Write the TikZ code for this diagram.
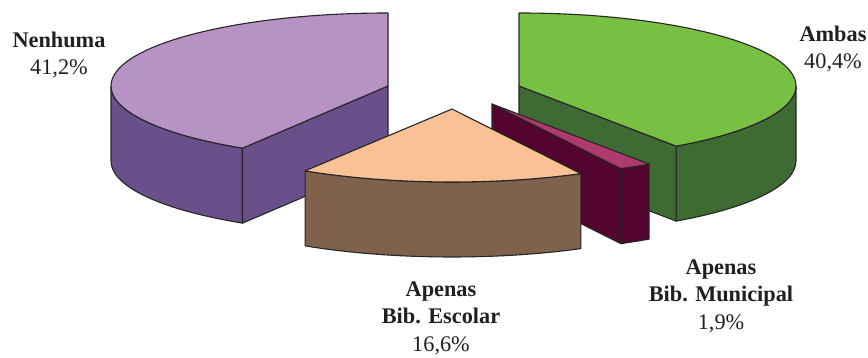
\documentclass[tikz,border=0pt]{standalone}
\usepackage{fontspec}
\setmainfont{Liberation Serif}
\usetikzlibrary{calc}
\definecolor{nenTop}{RGB}{183,146,196}
\definecolor{nenSide}{RGB}{106,80,138}
\definecolor{ambTop}{RGB}{120,192,67}
\definecolor{ambSide}{RGB}{62,106,51}
\definecolor{munTop}{RGB}{176,58,112}
\definecolor{munSide}{RGB}{83,5,48}
\definecolor{escTop}{RGB}{249,193,149}
\definecolor{escSide}{RGB}{128,98,76}
\definecolor{txt}{RGB}{35,31,32}
\tikzset{
  face/.style={draw=black!85, line width=1.1pt, line join=round},
  lbl/.style={align=center, text=txt, inner sep=0pt,
    font=\fontsize{22.3}{27.5}\selectfont},
  ell/.style={x radius=277pt, y radius=73pt}
}
\begin{document}
\begin{tikzpicture}[x=1pt,y=1pt]
\useasboundingbox (0,0) rectangle (868,358);
\coordinate (C1) at (388,272);
\coordinate (C2) at (519,272);
\coordinate (C3) at (492,254);
\coordinate (C4) at (452,249);
% ---------- Nenhuma ----------
\filldraw[face, fill=nenSide] ($(C1)+(180:277pt and 73pt)$) arc[ell, start angle=180, end angle=238.32]
  -- ++(0,-75) arc[ell, start angle=238.32, end angle=180] -- cycle;
\filldraw[face, fill=nenSide] (C1) -- ($(C1)+(238.32:277pt and 73pt)$) -- ++(0,-75) -- ($(C1)+(0,-75)$) -- cycle;
\filldraw[face, fill=nenTop] (C1) -- ($(C1)+(90:277pt and 73pt)$) arc[ell, start angle=90, end angle=238.32] -- cycle;
% ---------- Ambas ----------
\filldraw[face, fill=ambSide] ($(C2)+(-55.44:277pt and 73pt)$) arc[ell, start angle=-55.44, end angle=0]
  -- ++(0,-75) arc[ell, start angle=0, end angle=-55.44] -- cycle;
\filldraw[face, fill=ambSide] (C2) -- ($(C2)+(-55.44:277pt and 73pt)$) -- ++(0,-75) -- ($(C2)+(0,-75)$) -- cycle;
\filldraw[face, fill=ambTop] (C2) -- ($(C2)+(90:277pt and 73pt)$) arc[ell, start angle=90, end angle=-55.44] -- cycle;
% ---------- Apenas Bib. Municipal ----------
\filldraw[face, fill=munSide] (C3) -- ($(C3)+(-62.28:277pt and 73pt)$) -- ++(0,-75) -- ($(C3)+(0,-75)$) -- cycle;
\filldraw[face, fill=munSide] ($(C3)+(-62.28:277pt and 73pt)$) arc[ell, start angle=-62.28, end angle=-55.44]
  -- ++(0,-75) arc[ell, start angle=-55.44, end angle=-62.28] -- cycle;
\filldraw[face, fill=munTop] (C3) -- ($(C3)+(-55.44:277pt and 73pt)$) arc[ell, start angle=-55.44, end angle=-62.28] -- cycle;
% ---------- Apenas Bib. Escolar ----------
\filldraw[face, fill=escSide] ($(C4)+(-122.04:277pt and 73pt)$) arc[ell, start angle=-122.04, end angle=-62.28]
  -- ++(0,-75) arc[ell, start angle=-62.28, end angle=-122.04] -- cycle;
\filldraw[face, fill=escTop] (C4) -- ($(C4)+(-62.28:277pt and 73pt)$) arc[ell, start angle=-62.28, end angle=-122.04] -- cycle;
% ---------- labels ----------
\node[lbl] (lnen) at (59,303) {\textbf{Nenhuma}\\41,2\%};
\node[lbl] (lamb) at (833,309) {\textbf{Ambas}\\40,4\%};
\node[lbl] (lesc) at (441,40) {\textbf{Apenas}\\\textbf{Bib. Escolar}\\16,6\%};
\node[lbl] (lmun) at (721,62) {\textbf{Apenas}\\\textbf{Bib. Municipal}\\1,9\%};
\end{tikzpicture}
\end{document}
